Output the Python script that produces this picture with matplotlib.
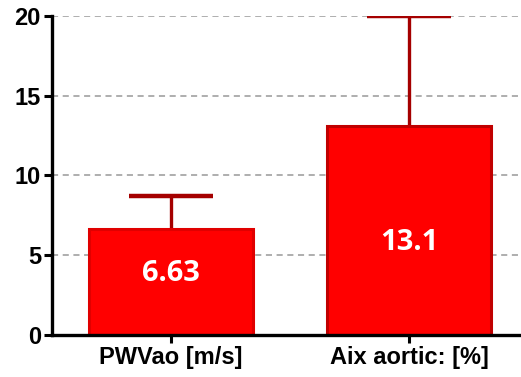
import matplotlib.pyplot as plt
import numpy as np

# measures and their values
categories = ['PWVao [m/s]', 'Aix aortic: [%]']
means = [6.63, 13.1]
upper_err = [2.07, 6.9]
value_labels = ['6.63', '13.1']

fig = plt.figure(figsize=(5.21, 3.77), dpi=100)
ax = fig.add_axes([0.0998, 0.111, 0.9002, 0.847])

x = np.arange(len(categories))
tops = np.array(means) + np.array(upper_err)

# dashed grid behind the bars
ax.set_axisbelow(True)
ax.yaxis.grid(True, linestyle=(0, (4, 3)), color='#999999', linewidth=1.1)

ax.bar(x, means, width=0.69, color='#FF0000', edgecolor=['#E00000', '#C00000'],
       linewidth=2.2, zorder=2)
# upper-only error bars: stem from bar top plus a cap
ax.vlines(x, means, tops, color='#A50000', linewidth=2.4, zorder=1)
ax.plot(x, tops, linestyle='none', marker='_', markersize=60,
        markeredgewidth=3.2, color='#A50000', zorder=1)

# value text inside each bar
label_y = [3.85, 5.8]
for xi, yi, txt in zip(x, label_y, value_labels):
    ax.text(xi, yi, txt, ha='center', va='center', color='white',
            fontsize=21, fontweight='bold', family=['Open Sans', 'DejaVu Sans'],
            zorder=3)

ax.set_xlim(-0.5, 1.47)
ax.set_ylim(0, 20)
ax.set_yticks([0, 5, 10, 15, 20])
ax.set_xticks(x)
ax.set_xticklabels(categories)

for side in ['top', 'right']:
    ax.spines[side].set_visible(False)
ax.spines['left'].set_linewidth(2.4)
ax.spines['bottom'].set_linewidth(2.4)

ax.tick_params(axis='both', width=2.2, length=6, color='black', pad=2)
for lbl in ax.get_yticklabels() + ax.get_xticklabels():
    lbl.set_fontweight('bold')
    lbl.set_family(['Liberation Sans', 'DejaVu Sans'])
for lbl in ax.get_yticklabels():
    lbl.set_fontsize(17)
for lbl in ax.get_xticklabels():
    lbl.set_fontsize(17)

fig.savefig('out.png', dpi=100)
